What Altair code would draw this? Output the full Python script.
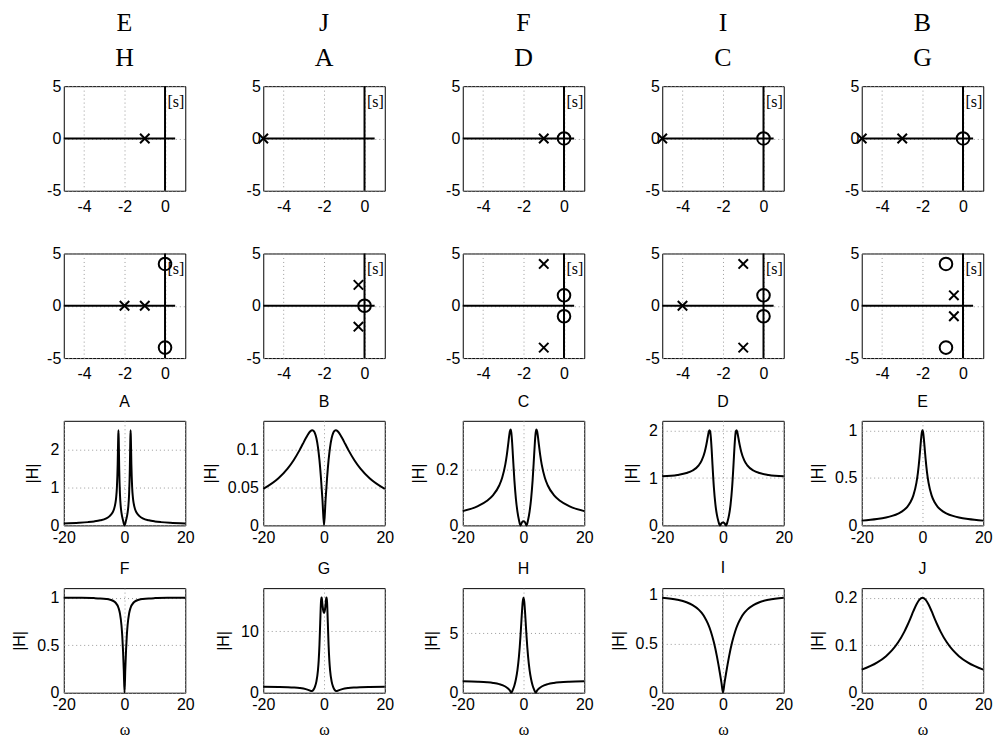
import altair as alt
import pandas as pd

SANS = "Liberation Sans"
SERIF = "Liberation Serif"

# ---------------- labels ----------------
pz_title_row1 = ["E", "J", "F", "I", "B"]
pz_title_row2 = ["H", "A", "D", "C", "G"]
mag_letters_row3 = ["A", "B", "C", "D", "E"]
mag_letters_row4 = ["F", "G", "H", "I", "J"]

# ---------------- pole / zero maps ----------------
pz1_pole_re = [[-1], [-5], [-1], [-5], [-5, -3]]
pz1_pole_im = [[0], [0], [0], [0], [0, 0]]
pz1_zero_re = [[], [], [0], [0], [0]]
pz1_zero_im = [[], [], [0], [0], [0]]

pz2_pole_re = [[-2, -1], [-0.3, -0.3], [-1, -1], [-4, -1, -1], [-0.45, -0.45]]
pz2_pole_im = [[0, 0], [2, -2], [4, -4], [0, 4, -4], [1, -1]]
pz2_zero_re = [[0, 0], [0], [0, 0], [0, 0], [-0.84, -0.84]]
pz2_zero_im = [[4, -4], [0], [1, -1], [1, -1], [4, -4]]

pz_xticks = [-4, -2, 0]
pz_yticks = [-5, 0, 5]
mag_xticks = [-20, 0, 20]

# ---------------- magnitude curves (omega >= 0, curves are even) ----------------
w_A = [0, 0.5, 1, 1.25, 1.5, 1.75, 1.9, 2, 2.1, 2.25, 2.5, 2.75, 3, 3.5, 4, 5, 6, 8, 10, 12, 15, 20]
m_A = [0, 0.133, 0.330, 0.502, 0.811, 1.496, 2.224, 2.5, 2.247, 1.616, 1.015, 0.738, 0.583, 0.418, 0.330,
       0.237, 0.187, 0.133, 0.104, 0.0857, 0.0678, 0.0505]

w_B = [0, 0.5, 1, 1.5, 2, 2.5, 3, 3.5, 3.87, 4.5, 5, 6, 7, 8, 10, 12, 15, 20]
m_B = [0, 0.0327, 0.0620, 0.0857, 0.1030, 0.1145, 0.1213, 0.1244, 0.1250, 0.1237, 0.1213, 0.1145,
       0.1069, 0.0993, 0.0857, 0.0746, 0.0620, 0.0480]

w_C = [0, 0.5, 1, 1.5, 2, 2.5, 3, 3.5, 3.75, 4, 4.25, 4.5, 4.75, 5, 5.5, 6, 7, 8, 10, 12, 15, 20]
m_C = [0.0147, 0.0111, 0, 0.0194, 0.0493, 0.0939, 0.160, 0.2502, 0.2958, 0.3290, 0.3413, 0.3340, 0.3155,
       0.2927, 0.2498, 0.2159, 0.1704, 0.1419, 0.1077, 0.0874, 0.0687, 0.0508]

w_D = [0, 0.5, 1, 1.5, 2, 2.5, 3, 3.5, 3.75, 4, 4.25, 4.5, 4.75, 5, 5.5, 6, 7, 8, 10, 12, 15, 20]
m_D = [0.0588, 0.0447, 0, 0.0830, 0.2206, 0.4428, 0.800, 1.330, 1.622, 1.861, 1.992, 2.011, 1.959,
       1.874, 1.699, 1.557, 1.374, 1.269, 1.160, 1.106, 1.066, 1.036]

w_E = [0, 0.25, 0.5, 0.75, 1, 1.5, 2, 3, 4, 5, 6, 8, 10, 12, 15, 20]
m_E = [1, 0.970, 0.894, 0.800, 0.707, 0.555, 0.447, 0.316, 0.243, 0.196, 0.164, 0.124, 0.0995, 0.0830,
       0.0665, 0.0500]

w_F = [0, 0.25, 0.5, 0.75, 1, 1.5, 2, 3, 4, 5, 6, 8, 10, 15, 20]
m_F = [0, 0.2425, 0.447, 0.600, 0.707, 0.832, 0.894, 0.949, 0.970, 0.981, 0.986, 0.992, 0.995, 0.998, 0.999]

w_G = [0, 0.25, 0.5, 0.75, 0.85, 1, 1.25, 1.5, 1.75, 2, 2.5, 3, 3.5, 4, 4.5, 5, 6, 8, 10, 12, 15, 20]
m_G = [13.0, 13.34, 14.32, 15.44, 15.53, 14.82, 11.44, 7.81, 5.28, 3.65, 1.844, 0.944, 0.4605, 0.2623,
       0.3083, 0.4153, 0.5853, 0.7654, 0.8498, 0.8957, 0.9333, 0.9625]

w_H = [0, 0.25, 0.5, 0.75, 1, 1.25, 1.5, 2, 2.5, 3, 3.5, 4, 4.5, 5, 6, 8, 10, 12, 15, 20]
m_H = [8.0, 7.671, 6.833, 5.782, 4.743, 3.824, 3.051, 1.897, 1.131, 0.614, 0.2556, 0, 0.1872, 0.3278,
       0.5199, 0.722, 0.8195, 0.8737, 0.919, 0.954]

w_I = [0, 0.5, 1, 1.5, 2, 3, 4, 5, 6, 7, 8, 10, 12, 15, 20]
m_I = [0, 0.0995, 0.196, 0.287, 0.371, 0.514, 0.625, 0.707, 0.768, 0.814, 0.848, 0.894, 0.923, 0.949, 0.970]

w_J = [0, 1, 2, 3, 4, 5, 6, 8, 10, 12, 15, 20]
m_J = [0.2, 0.196, 0.1857, 0.1715, 0.156, 0.1414, 0.128, 0.106, 0.0894, 0.0769, 0.0632, 0.0485]

mag_w_row3 = [w_A, w_B, w_C, w_D, w_E]
mag_m_row3 = [m_A, m_B, m_C, m_D, m_E]
mag_w_row4 = [w_F, w_G, w_H, w_I, w_J]
mag_m_row4 = [m_F, m_G, m_H, m_I, m_J]

ymax_row3 = [2.75, 0.1375, 0.372, 2.21, 1.1]
ymax_row4 = [1.1, 17.05, 8.8, 1.067, 0.22]
yticks_row3 = [[0, 1, 2], [0, 0.05, 0.1], [0, 0.2], [0, 1, 2], [0, 0.5, 1]]
yticks_row4 = [[0, 0.5, 1], [0, 10], [0, 5], [0, 0.5, 1], [0, 0.1, 0.2]]

# ---------------- layout ----------------
W, H = 122, 105
XSHAPE = "M-1,-1L1,1M-1,1L1,-1"
LBL = "'' + datum.value"


def pz_panel(pre, pim, zre, zim, title=None):
    one = pd.DataFrame({"k": [0]})
    xsc = alt.Scale(domain=[-5, 1], nice=False, zero=False)
    ysc = alt.Scale(domain=[-5, 5], nice=False, zero=False)
    xax = alt.Axis(values=pz_xticks, title=None, labelPadding=8, labelExpr=LBL)
    yax = alt.Axis(values=pz_yticks, title=None, labelPadding=3, labelExpr=LBL)
    hline = alt.Chart(one).mark_rule(color="black", strokeWidth=2).encode(
        x=alt.datum(-5), x2=alt.datum(0.5), y=alt.datum(0))
    vline = alt.Chart(one).mark_rule(color="black", strokeWidth=2).encode(
        x=alt.datum(0), y=alt.datum(-5), y2=alt.datum(5))
    poles = alt.Chart(pd.DataFrame({"re": pre, "im": pim})).mark_point(
        shape=XSHAPE, size=90, strokeWidth=2, color="black", filled=False, opacity=1
    ).encode(x=alt.X("re:Q", scale=xsc, axis=xax), y=alt.Y("im:Q", scale=ysc, axis=yax))
    layers = [hline, vline, poles]
    if len(zre):
        zeros = alt.Chart(pd.DataFrame({"re": zre, "im": zim})).mark_point(
            shape="circle", size=160, strokeWidth=2, color="black", filled=False, opacity=1
        ).encode(x="re:Q", y="im:Q")
        layers.append(zeros)
    stext = alt.Chart(one).mark_text(
        text="[s]", font=SERIF, fontSize=16, align="right", baseline="top", dx=-1, dy=8, color="black"
    ).encode(x=alt.datum(1), y=alt.datum(5))
    layers.append(stext)
    ch = alt.layer(*layers).properties(width=W, height=H)
    if title is not None:
        ch = ch.properties(title=alt.TitleParams(
            text=title, font=SERIF, fontSize=26, fontWeight="normal", lineHeight=35,
            offset=-19, anchor="middle", color="black", baseline="bottom"))
    return ch


def mag_panel(letter, w, m, ymax, yt, xtitle):
    wn = [-v for v in reversed(w) if v != 0]
    mn = [m[i] for i in reversed(range(len(w))) if w[i] != 0]
    df = pd.DataFrame({"w": wn + list(w), "m": mn + list(m)})
    xax_kw = dict(values=mag_xticks, labelPadding=4, labelExpr=LBL)
    if xtitle:
        xax = alt.Axis(title=xtitle, titleFont=SERIF, titleFontSize=16, titleFontWeight="normal",
                       titlePadding=9, titleColor="black", **xax_kw)
    else:
        xax = alt.Axis(title=None, **xax_kw)
    yax = alt.Axis(values=yt, title="|H|", titleFont=SANS, titleFontSize=16, titleFontWeight="normal",
                   titlePadding=9, titleColor="black", labelPadding=5, labelExpr=LBL)
    return alt.Chart(df).mark_line(color="black", strokeWidth=2, interpolate="monotone").encode(
        x=alt.X("w:Q", scale=alt.Scale(domain=[-20, 20], nice=False, zero=False), axis=xax),
        y=alt.Y("m:Q", scale=alt.Scale(domain=[0, ymax], nice=False, zero=False), axis=yax),
    ).properties(width=W, height=H, title=alt.TitleParams(
        text=letter, font=SANS, fontSize=16, fontWeight="normal", offset=-5, anchor="middle",
        color="black", baseline="bottom"))


panels = []
for i in range(5):
    panels.append(pz_panel(pz1_pole_re[i], pz1_pole_im[i], pz1_zero_re[i], pz1_zero_im[i],
                           [pz_title_row1[i], pz_title_row2[i]]))
for i in range(5):
    panels.append(pz_panel(pz2_pole_re[i], pz2_pole_im[i], pz2_zero_re[i], pz2_zero_im[i]))
for i in range(5):
    panels.append(mag_panel(mag_letters_row3[i], mag_w_row3[i], mag_m_row3[i], ymax_row3[i],
                            yticks_row3[i], None))
for i in range(5):
    panels.append(mag_panel(mag_letters_row4[i], mag_w_row4[i], mag_m_row4[i], ymax_row4[i],
                            yticks_row4[i], "ω"))

chart = alt.concat(*panels, columns=5, spacing={"row": 63, "column": 78.3}, bounds="flush").properties(
    padding={"left": 3, "top": 0, "right": 0, "bottom": 0}
).configure_view(stroke="black", strokeWidth=1, fill=None).configure_axis(
    labelFont=SANS, labelFontSize=16, labelColor="black", ticks=False, domain=False,
    grid=True, gridColor="#999999", gridDash=[1, 3], gridWidth=1,
    labelFlush=False, labelOverlap=False
)

chart.save("out.html", embed_options={"renderer": "svg", "actions": False})
